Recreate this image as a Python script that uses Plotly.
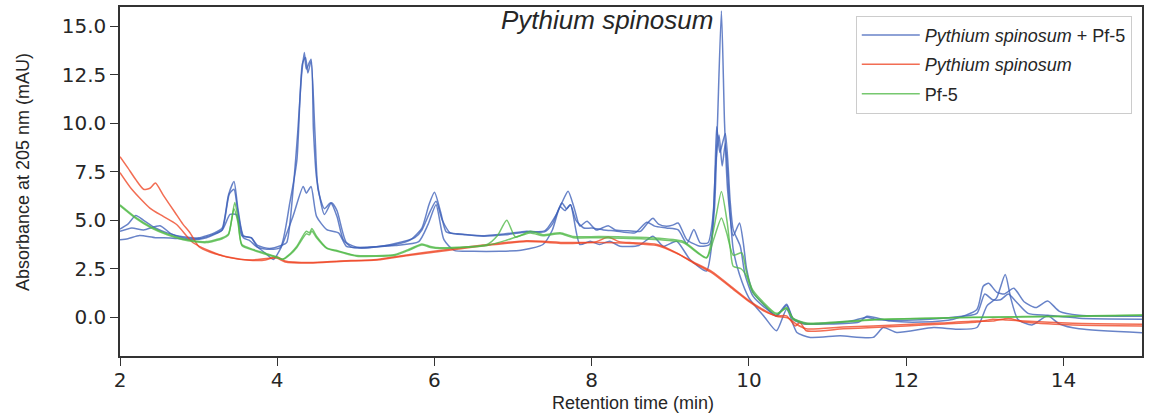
import plotly.graph_objects as go

# ---------------- data ----------------
# Pythium spinosum + Pf-5 (blue replicates)
b1_t = [2.0, 2.1, 2.2, 2.3, 2.45, 2.6, 2.8, 3.0, 3.2, 3.3, 3.38, 3.45, 3.5, 3.57, 3.67, 3.75, 3.9, 4.05, 4.12,
        4.2, 4.26, 4.31, 4.345, 4.37, 4.43, 4.46, 4.5, 4.6, 4.69, 4.76, 4.88, 5.05, 5.3, 5.5, 5.7, 5.84, 5.93, 6.0,
        6.08, 6.15, 6.3, 6.6, 6.9, 7.17, 7.4, 7.55, 7.62, 7.7, 7.78, 7.85, 7.94, 8.06, 8.21, 8.3, 8.5, 8.62, 8.72,
        8.78, 8.85, 8.95, 9.03, 9.1, 9.21, 9.38, 9.5, 9.56, 9.6, 9.65, 9.69, 9.73, 9.8, 9.88, 9.93, 9.97, 10.05,
        10.2, 10.35, 10.48, 10.56, 10.7, 11.0, 11.3, 11.5, 11.6, 11.9, 12.3, 12.6, 12.9, 13.0, 13.1, 13.2, 13.3,
        13.4, 13.55, 13.8, 14.2, 15.0]
b1_v = [4.55, 4.8, 5.25, 5.0, 4.6, 4.35, 4.15, 4.1, 4.35, 4.6, 6.3, 7.0, 5.6, 4.2, 4.1, 3.7, 3.55, 3.7, 3.85,
        6.5, 9.5, 12.5, 13.65, 12.8, 13.3, 9.7, 7.2, 5.3, 5.9, 5.5, 3.85, 3.58, 3.65, 3.75, 4.0, 4.6, 5.8, 6.44,
        5.4, 4.4, 4.3, 4.2, 4.3, 4.43, 4.45, 5.3, 5.9, 6.5, 5.6, 4.7, 4.95, 4.5, 4.72, 4.5, 4.45, 4.43, 4.9,
        5.1, 4.8, 4.69, 4.75, 4.86, 4.0, 3.66, 3.75, 5.5, 10.0, 15.8, 10.0, 6.5, 4.2, 4.86, 3.8, 2.5, 1.3,
        0.6, 0.05, 0.6, -0.1, -0.35, -0.3, -0.2, 0.0, -0.1, -0.15, -0.1, 0.0, 0.2, 1.2, 0.9, 0.9, 1.2,
        0.8, 0.2, 0.1, -0.05, -0.1]

b2_t = [2.0, 2.15, 2.3, 2.51, 2.65, 2.8, 3.0, 3.2, 3.3, 3.39, 3.45, 3.5, 3.57, 3.65, 3.75, 3.9, 4.04, 4.16, 4.25,
        4.32, 4.36, 4.39, 4.43, 4.48, 4.52, 4.6, 4.68, 4.76, 4.84, 4.95, 5.2, 5.5, 5.75, 5.84, 5.95, 6.02, 6.1,
        6.2, 6.4, 6.62, 6.9, 7.17, 7.4, 7.5, 7.62, 7.68, 7.73, 7.8, 7.9, 8.0, 8.15, 8.3, 8.55, 8.7, 8.8, 8.95,
        9.1, 9.21, 9.3, 9.38, 9.48, 9.55, 9.59, 9.63, 9.7, 9.76, 9.8, 9.89, 9.95, 10.05, 10.2, 10.35, 10.48,
        10.56, 10.7, 11.0, 11.4, 11.5, 11.8, 12.2, 12.6, 12.9, 12.98, 13.05, 13.15, 13.25, 13.37, 13.5, 13.65,
        13.8, 13.95, 14.2, 15.0]
b2_v = [4.43, 4.6, 4.5, 4.72, 4.3, 4.1, 4.05, 4.3, 4.5, 6.35, 6.6, 5.4, 4.1, 3.95, 3.6, 3.5, 3.6, 5.9, 8.1,
        13.08, 13.4, 12.6, 13.2, 9.48, 6.57, 5.6, 5.9, 5.2, 4.0, 3.6, 3.6, 3.8, 4.1, 4.5, 5.5, 5.98, 5.0,
        4.35, 4.25, 4.18, 4.25, 4.4, 4.4, 4.8, 5.89, 5.6, 5.8, 5.0, 4.6, 4.6, 4.5, 4.45, 4.35, 4.9, 4.7, 4.6,
        4.5, 3.8, 4.52, 3.84, 3.84, 5.5, 9.83, 8.5, 9.48, 6.06, 4.52, 3.66, 2.2, 1.1, 0.5, 0.1, 0.67,
        -0.05, -0.3, -0.35, -0.25, 0.05, -0.2, -0.25, -0.1, 0.4, 1.6, 1.75, 1.3, 1.2, 1.5, 0.8, 0.5,
        0.84, 0.3, 0.1, 0.05]

b3_t = [2.0, 2.1, 2.25, 2.45, 2.64, 2.9, 3.1, 3.3, 3.4, 3.48, 3.55, 3.67, 3.74, 3.85, 3.95, 4.05, 4.2, 4.33,
        4.37, 4.43, 4.5, 4.63, 4.78, 4.88, 5.0, 5.5, 5.8, 5.92, 6.02, 6.12, 6.25, 6.5, 6.83, 7.1, 7.38, 7.5,
        7.6, 7.66, 7.73, 7.85, 7.98, 8.1, 8.23, 8.36, 8.6, 8.78, 8.91, 9.08, 9.25, 9.46, 9.52, 9.58, 9.62,
        9.66, 9.7, 9.75, 9.8, 9.88, 10.0, 10.2, 10.35, 10.48, 10.61, 10.78, 11.16, 11.58, 11.71, 11.88,
        12.35, 12.65, 12.9, 13.03, 13.15, 13.26, 13.33, 13.42, 13.6, 13.8, 13.95, 14.2, 15.0]
b3_v = [4.0, 4.05, 4.21, 4.1, 4.09, 4.0, 4.1, 4.5, 5.3, 5.29, 4.2, 4.09, 3.66, 3.3, 2.98, 3.6, 5.2, 6.74,
        6.4, 6.74, 5.2, 4.52, 4.35, 3.66, 3.6, 3.7, 3.9, 4.8, 5.8, 4.0, 3.45, 3.4, 3.4, 3.45, 3.75, 4.5,
        5.7, 5.5, 5.8, 3.75, 3.92, 3.75, 3.92, 3.66, 3.7, 4.18, 3.66, 3.92, 2.98, 2.38, 3.5, 8.0, 9.4,
        7.8, 8.97, 6.0, 3.5, 2.2, 1.0, 0.0, -0.7, 0.41, -0.79, -1.04, -0.96, -1.04, -0.53, -0.79,
        -0.53, -0.62, -0.53, 0.6, 1.0, 2.2, 1.0, -0.1, -0.4, 0.07, -0.35, -0.6, -0.8]

# Pythium spinosum (red replicates)
r1_t = [2.0, 2.1, 2.2, 2.3, 2.38, 2.45, 2.55, 2.7, 2.8, 2.89, 3.0, 3.15, 3.36, 3.65, 3.85, 3.99, 4.1, 4.42,
        4.8, 5.27, 5.69, 5.99, 6.62, 7.17, 7.68, 8.06, 8.21, 8.35, 8.53, 8.83, 9.08, 9.29, 9.53, 9.8, 10.02,
        10.2, 10.35, 10.48, 10.59, 10.65, 10.73, 11.2, 11.58, 12.0, 12.43, 12.9, 13.1, 13.28, 13.5, 14.12, 15.0]
r1_v = [8.28, 7.7, 7.1, 6.6, 6.65, 6.92, 6.3, 5.4, 4.8, 4.36, 3.65, 3.35, 3.12, 2.94, 2.95, 3.12, 2.9, 2.82,
        2.9, 2.98, 3.24, 3.4, 3.72, 3.95, 3.85, 3.9, 4.14, 3.9, 3.84, 3.75, 3.32, 2.81, 2.29, 1.44, 0.75,
        0.3, 0.07, 0.07, -0.45, -0.27, -0.7, -0.6, -0.53, -0.45, -0.36, -0.25, -0.1, -0.14, -0.2, -0.31, -0.36]

r2_t = [2.0, 2.15, 2.38, 2.55, 2.72, 2.93, 3.15, 3.36, 3.65, 3.99, 4.1, 4.42, 4.8, 5.27, 5.69, 5.99, 6.62,
        7.17, 7.68, 8.06, 8.53, 8.83, 9.08, 9.29, 9.53, 9.8, 10.02, 10.2, 10.35, 10.5, 10.6, 10.73, 11.2,
        11.58, 12.0, 12.43, 12.9, 13.1, 13.3, 13.5, 14.12, 15.0]
r2_v = [7.46, 6.6, 5.63, 5.2, 4.78, 3.84, 3.4, 3.1, 2.95, 3.05, 2.85, 2.8, 2.88, 2.95, 3.2, 3.35, 3.68,
        3.9, 3.8, 3.85, 3.8, 3.7, 3.3, 2.85, 2.35, 1.5, 0.8, 0.35, 0.05, -0.05, -0.35, -0.6, -0.5,
        -0.45, -0.38, -0.3, -0.2, -0.2, -0.05, -0.25, -0.4, -0.45]

# Pf-5 (green replicates)
g1_t = [2.0, 2.2, 2.4, 2.6, 2.8, 2.93, 3.1, 3.3, 3.38, 3.46, 3.5, 3.55, 3.7, 3.85, 3.99, 4.07, 4.17, 4.25,
        4.37, 4.41, 4.44, 4.5, 4.63, 4.76, 5.01, 5.5, 5.69, 5.84, 5.95, 6.07, 6.67, 6.8, 6.92, 7.03, 7.22,
        7.38, 7.6, 7.77, 8.1, 8.74, 9.16, 9.46, 9.55, 9.65, 9.72, 9.76, 9.8, 9.9, 9.97, 10.05, 10.35, 10.48,
        10.56, 10.73, 11.58, 12.85, 14.12, 15.0]
g1_v = [5.8, 5.15, 4.65, 4.3, 4.05, 3.95, 3.9, 4.1, 4.3, 5.92, 5.1, 3.75, 3.49, 3.3, 3.12, 3.0, 3.3, 3.66,
        4.43, 4.35, 4.57, 4.18, 3.58, 3.44, 3.18, 3.24, 3.53, 3.78, 3.65, 3.58, 3.75, 4.2, 5.0, 4.14, 4.43,
        4.26, 4.36, 4.16, 4.16, 4.1, 3.92, 3.08, 4.5, 6.49, 5.0, 3.66, 2.63, 2.5, 2.12, 1.27, 0.15, 0.5,
        -0.1, -0.36, -0.14, -0.02, 0.04, 0.1]

g2_t = [2.0, 2.2, 2.4, 2.6, 2.8, 2.93, 3.1, 3.3, 3.38, 3.45, 3.5, 3.55, 3.7, 3.85, 3.99, 4.07, 4.17, 4.25,
        4.37, 4.41, 4.44, 4.5, 4.63, 4.76, 5.01, 5.5, 5.69, 5.84, 5.95, 6.07, 6.67, 6.9, 7.22, 7.38, 7.6,
        7.77, 8.1, 8.74, 9.16, 9.46, 9.55, 9.65, 9.72, 9.8, 9.91, 9.97, 10.05, 10.35, 10.48, 10.56, 10.73,
        11.58, 12.85, 14.12, 15.0]
g2_v = [5.75, 5.1, 4.6, 4.25, 4.0, 3.9, 3.85, 4.05, 4.25, 5.6, 4.9, 3.7, 3.45, 3.25, 3.08, 2.98, 3.25, 3.6,
        4.3, 4.25, 4.45, 4.1, 3.55, 3.4, 3.15, 3.2, 3.48, 3.72, 3.6, 3.55, 3.7, 3.95, 4.35, 4.2, 4.3,
        4.1, 4.1, 4.02, 3.85, 3.05, 4.0, 5.12, 4.3, 3.2, 3.32, 2.3, 1.4, 0.2, 0.45, -0.05, -0.3,
        -0.12, 0.0, 0.06, 0.12]

legend_names = ["<i>Pythium spinosum</i> + Pf-5", "<i>Pythium spinosum</i>", "Pf-5"]
group_colors = ["rgba(61,96,184,0.78)", "rgba(238,68,34,0.78)", "rgba(80,184,70,0.78)"]
title_text = "<i>Pythium spinosum</i>"
x_title = "Retention time (min)"
y_title = "Absorbance at 205 nm (mAU)"
x_ticks = [2, 4, 6, 8, 10, 12, 14]
y_ticks = [0.0, 2.5, 5.0, 7.5, 10.0, 12.5, 15.0]

groups = [
    [(b1_t, b1_v), (b2_t, b2_v), (b3_t, b3_v)],
    [(r1_t, r1_v), (r2_t, r2_v)],
    [(g1_t, g1_v), (g2_t, g2_v)],
]

fig = go.Figure()
for gi, reps in enumerate(groups):
    for ri, (t, v) in enumerate(reps):
        fig.add_trace(go.Scatter(
            x=t, y=v, mode="lines",
            line=dict(color=group_colors[gi], width=1.5, shape="spline", smoothing=0.6),
            name=legend_names[gi], legendgroup=str(gi), showlegend=(ri == 0),
        ))

axis_common = dict(showline=True, mirror=True, linecolor="#333333", linewidth=1.5,
                   ticks="outside", ticklen=8, tickwidth=1.3, tickcolor="#333333",
                   showgrid=False, zeroline=False, automargin=False,
                   tickfont=dict(family="DejaVu Sans", size=20, color="#262626"))

fig.update_layout(
    width=1149, height=414,
    margin=dict(l=120, r=7, t=7, b=58),
    plot_bgcolor="white", paper_bgcolor="white",
    xaxis=dict(range=[2, 15], tickvals=x_ticks, ticklabelstandoff=-3, **axis_common),
    yaxis=dict(range=[-2, 16], tickvals=y_ticks, tickformat=".1f", **axis_common),
    legend=dict(x=0.99, y=0.975, xanchor="right", yanchor="top",
                bgcolor="white", bordercolor="#cccccc", borderwidth=1,
                font=dict(family="Liberation Sans", size=18, color="#262626"),
                traceorder="grouped", tracegroupgap=3, itemwidth=58),
    showlegend=True,
    annotations=[
        dict(text=title_text, xref="paper", yref="paper", x=0.4765, y=0.963,
             xanchor="center", yanchor="middle", showarrow=False,
             font=dict(family="Liberation Sans", size=26, color="#262626")),
        dict(text=x_title, xref="paper", yref="paper", x=0.502, y=-0.1345,
             xanchor="center", yanchor="middle", showarrow=False, borderpad=0,
             font=dict(family="Liberation Sans", size=18, color="#262626")),
        dict(text=y_title, xref="paper", yref="paper", x=-0.0949, y=0.527,
             xanchor="center", yanchor="middle", showarrow=False, textangle=-90,
             font=dict(family="Liberation Sans", size=18, color="#262626")),
    ],
)

fig.write_html("out.html")
